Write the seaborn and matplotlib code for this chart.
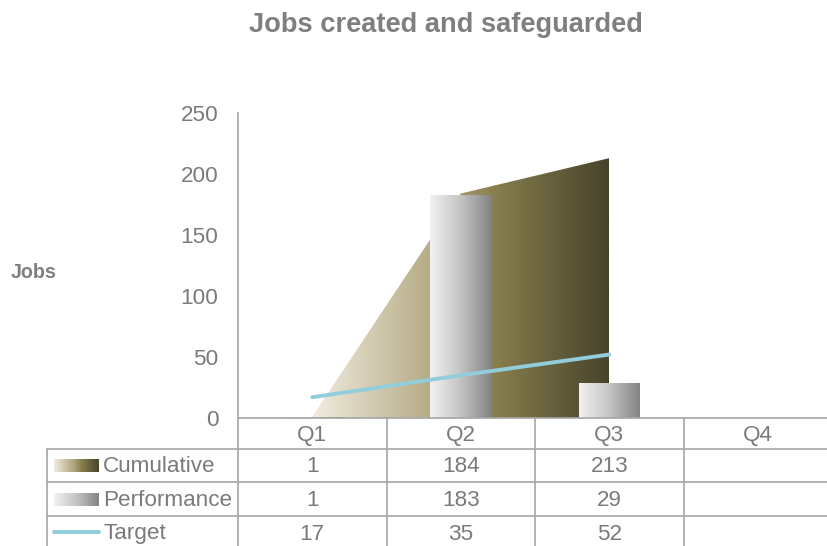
import numpy as np
import pandas as pd
import matplotlib
matplotlib.use("Agg")
import matplotlib.pyplot as plt
import seaborn as sns
from matplotlib.colors import LinearSegmentedColormap
from matplotlib.transforms import blended_transform_factory
from matplotlib.lines import Line2D

# ---------------- data ----------------
quarters = ["Q1", "Q2", "Q3", "Q4"]
cumulative = [1, 184, 213, np.nan]
performance = [1, 183, 29, np.nan]
target = [17, 35, 52, np.nan]
series_names = ["Cumulative", "Performance", "Target"]
title = "Jobs created and safeguarded"
y_label = "Jobs"
y_ticks = [0, 50, 100, 150, 200, 250]

# ---------------- style ----------------
sns.set_theme(style="white")
plt.rcParams["font.family"] = ["Liberation Sans", "DejaVu Sans"]
TXT = "#7a7a7a"
GRID = "#a6a6a6"
LINE_C = "#92cddc"
FS = 16.2

area_cmap = LinearSegmentedColormap.from_list(
    "area", [(0.0, "#f0ecdf"), (0.45, "#aea37a"), (0.62, "#877d4d"), (1.0, "#48432c")])
bar_cmap = LinearSegmentedColormap.from_list(
    "bar", [(0.0, "#f2f2f2"), (0.5, "#c4c4c4"), (1.0, "#848484")])

W, H = 827, 546
fig = plt.figure(figsize=(W / 100, H / 100), dpi=100)


def fx(px):
    return px / W


def fy(py):
    return 1 - py / H


ax = fig.add_axes([fx(238), fy(418), fx(832) - fx(238), fy(113) - fy(418)])

df = pd.DataFrame({"quarter": quarters, "Cumulative": cumulative,
                   "Performance": performance, "Target": target})
pos = np.arange(len(quarters))
grad = np.linspace(0, 1, 256).reshape(1, -1)

# ---- cumulative area with horizontal gradient ----
cum = df["Cumulative"].to_numpy(dtype=float)
m = ~np.isnan(cum)
area = ax.fill_between(pos[m], 0, cum[m], facecolor="none", edgecolor="none", zorder=1)
im = ax.imshow(grad, cmap=area_cmap, aspect="auto", zorder=1,
               extent=[pos[m].min(), pos[m].max(), 0, np.nanmax(cum)], origin="lower")
im.set_clip_path(area.get_paths()[0], transform=ax.transData)

# ---- performance bars (seaborn) with gradient ----
sns.barplot(data=df, x="quarter", y="Performance", order=quarters, width=0.41,
            ax=ax, color="white", zorder=2)
for p in list(ax.patches):
    bb = p.get_bbox()
    if not np.isfinite(bb.height) or bb.height <= 0:
        continue
    p.set_facecolor("none")
    p.set_edgecolor("none")
    gi = ax.imshow(grad, cmap=bar_cmap, aspect="auto", zorder=2,
                   extent=[bb.x0, bb.x1, bb.y0, bb.y1], origin="lower")
    gi.set_clip_path(p)

# ---- target line ----
sns.lineplot(x=pos, y=df["Target"].to_numpy(dtype=float), ax=ax, color=LINE_C,
             linewidth=2.8, zorder=3, solid_capstyle="round")

ax.set_xlim(-0.5, len(quarters) - 0.5)
ax.set_ylim(0, 250)
ax.set_yticks(y_ticks)
ax.set_xticks([])
ax.set_xlabel("")
ax.set_ylabel("")
ax.tick_params(axis="y", length=0, pad=14, labelsize=FS, labelcolor=TXT)
for s in ["top", "right"]:
    ax.spines[s].set_visible(False)
for s in ["left", "bottom"]:
    ax.spines[s].set_color(GRID)
    ax.spines[s].set_linewidth(1.2)

# ---------------- data table ----------------
bt = blended_transform_factory(ax.transData, fig.transFigure)
rows_y = [418, 449, 482, 516, 549]
lw = 1.2

# vertical column lines
for b in np.arange(len(quarters)) - 0.5 + 1:
    fig.add_artist(Line2D([b, b], [fy(418), fy(549)], transform=bt, color=GRID, lw=lw))
fig.add_artist(Line2D([-0.5, -0.5], [fy(418), fy(549)], transform=bt, color=GRID, lw=lw))
fig.add_artist(Line2D([fx(47), fx(47)], [fy(449), fy(549)], transform=fig.transFigure,
                      color=GRID, lw=lw))
# horizontal row lines
for ry in rows_y[1:4]:
    fig.add_artist(Line2D([fx(47), fx(W + 10)], [fy(ry), fy(ry)], transform=fig.transFigure,
                          color=GRID, lw=lw))

# header
for i, q in enumerate(quarters):
    fig.text(i, fy(435), q, transform=bt, ha="center", va="center",
             fontsize=FS, color=TXT)

series_values = [cumulative, performance, target]
for r, (name, vals) in enumerate(zip(series_names, series_values)):
    yc = (rows_y[r + 1] + rows_y[r + 2]) / 2 + 1.5
    fig.text(fx(103), fy(yc), name, ha="left", va="center", fontsize=FS, color=TXT)
    for i, v in enumerate(vals):
        if v is not None and not (isinstance(v, float) and np.isnan(v)):
            fig.text(i, fy(yc), f"{int(v)}", transform=bt, ha="center", va="center",
                     fontsize=FS, color=TXT)

# legend swatches
for r, cmap in [(0, area_cmap), (1, bar_cmap)]:
    yc = (rows_y[r + 1] + rows_y[r + 2]) / 2
    sax = fig.add_axes([fx(54), fy(yc + 6.5), fx(99) - fx(54), fy(yc - 6.5) - fy(yc + 6.5)])
    sax.imshow(grad, cmap=cmap, aspect="auto")
    sax.set_axis_off()
yc = (rows_y[3] + rows_y[4]) / 2
fig.add_artist(Line2D([fx(54), fx(99)], [fy(yc - 1), fy(yc - 1)], transform=fig.transFigure,
                      color=LINE_C, lw=2.8, solid_capstyle="round"))

# ---------------- titles ----------------
fig.text(fx(446), fy(25), title, ha="center", va="center", fontsize=19.6,
         fontweight="bold", color="#7f7f7f")
fig.text(fx(34), fy(273), y_label, ha="center", va="center", fontsize=14.2,
         fontweight="bold", color="#7f7f7f")

fig.savefig("out.png", dpi=100)
